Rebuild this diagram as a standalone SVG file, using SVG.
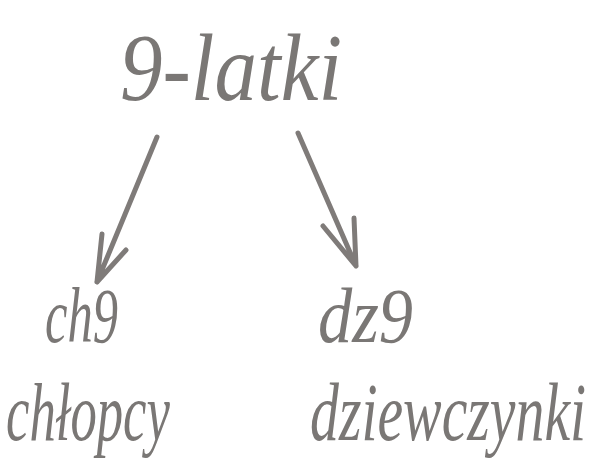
<svg xmlns="http://www.w3.org/2000/svg" width="608" height="471" viewBox="0 0 608 471">
<style>
.t{font-family:"Liberation Serif","DejaVu Serif",serif;font-style:italic;fill:#7a7775}
.a{fill:none;stroke:#7f7b79;stroke-width:5;stroke-linecap:round;stroke-linejoin:round}
</style>
<rect width="608" height="471" fill="#ffffff"/>
<g id="root"><text class="t" transform="translate(120,100) scale(0.886,1)" font-size="96">9-latki</text></g>
<g id="connectors">
<path class="a" d="M157,137 L97,282 M97,282 L102,234 M97,282 L126,250"/>
<path class="a" d="M298,133 L356,266 M356,266 L323,226 M356,266 L354,218"/>
</g>
<g id="ch9"><text class="t" transform="translate(45,342) scale(0.648,1)" font-size="78">ch9</text></g>
<g id="dz9"><text class="t" transform="translate(318,342) scale(0.877,1)" font-size="78">dz9</text></g>
<g id="chlopcy"><text class="t" transform="translate(6,440) scale(0.643,1)" font-size="82">chłopcy</text></g>
<g id="dziewczynki"><text class="t" transform="translate(310,440) scale(0.705,1)" font-size="82">dziewczynki</text></g>
</svg>
